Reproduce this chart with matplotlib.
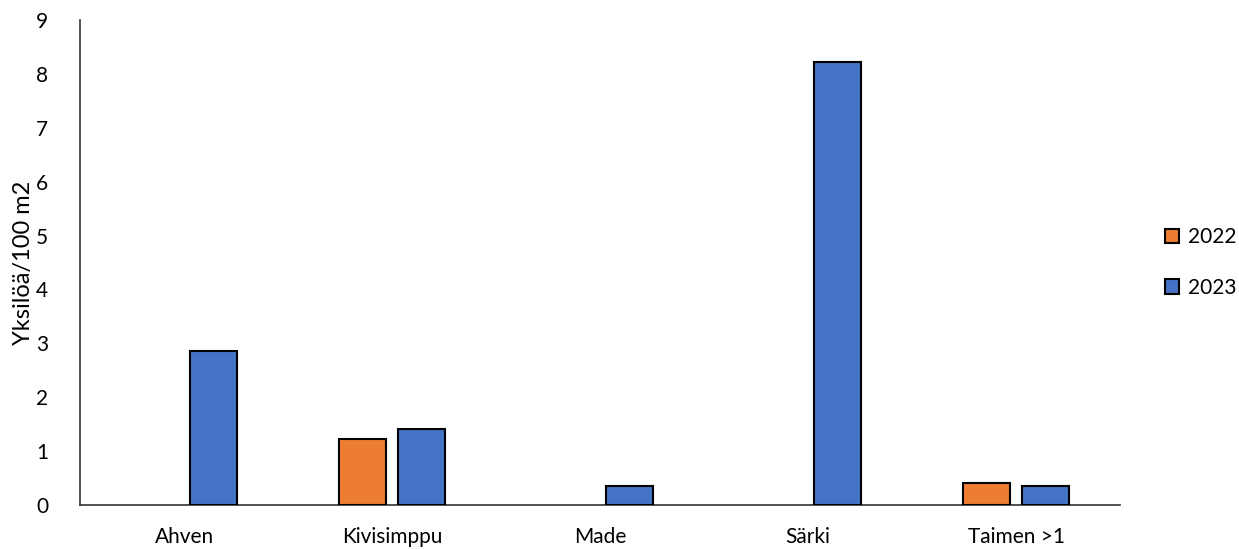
import matplotlib
matplotlib.use("Agg")
import matplotlib.pyplot as plt
import numpy as np

categories = ["Ahven", "Kivisimppu", "Made", "Särki", "Taimen >1"]
values_2022 = [0, 1.22, 0, 0, 0.41]
values_2023 = [2.86, 1.42, 0.36, 8.22, 0.36]
series_labels = ["2022", "2023"]
colors = ["#ED7D31", "#4472C4"]

plt.rcParams["font.family"] = ["Lato", "DejaVu Sans"]

fig = plt.figure(figsize=(12.39, 5.49), dpi=100)
ax = fig.add_axes([0.0646, 0.080, 0.8394, 0.8836])

x = np.arange(len(categories))
width = 0.226
offset = 0.142

for vals, off, color, label in zip([values_2022, values_2023], [-offset, offset], colors, series_labels):
    heights = np.array(vals, dtype=float)
    mask = heights > 0
    ax.bar(x[mask] + off, heights[mask], width=width, color=color,
           edgecolor="black", linewidth=1.5, label=label, zorder=3)

ax.set_xlim(-0.5, len(categories) - 0.5)
ax.set_ylim(0, 9)
ax.set_yticks(range(0, 10))
ax.set_xticks(x)
ax.set_xticklabels(categories)
ax.tick_params(axis="both", length=0, labelsize=15, colors="#000000")
ax.tick_params(axis="x", pad=16)
ax.tick_params(axis="y", pad=23)

for side in ["top", "right"]:
    ax.spines[side].set_visible(False)
ax.spines["left"].set_color("#333333")
ax.spines["bottom"].set_color("#333333")
ax.spines["left"].set_linewidth(1.2)
ax.spines["bottom"].set_linewidth(1.2)

ax.set_ylabel("Yksilöä/100 m2", fontsize=17)
ax.yaxis.set_label_coords(-0.044, 0.5)

leg = ax.legend(loc="center left", bbox_to_anchor=(1.025, 0.5), frameon=False,
                fontsize=15, handlelength=0.7, handleheight=0.7,
                handletextpad=0.4, labelspacing=1.45)

fig.savefig("out.png", dpi=100)
